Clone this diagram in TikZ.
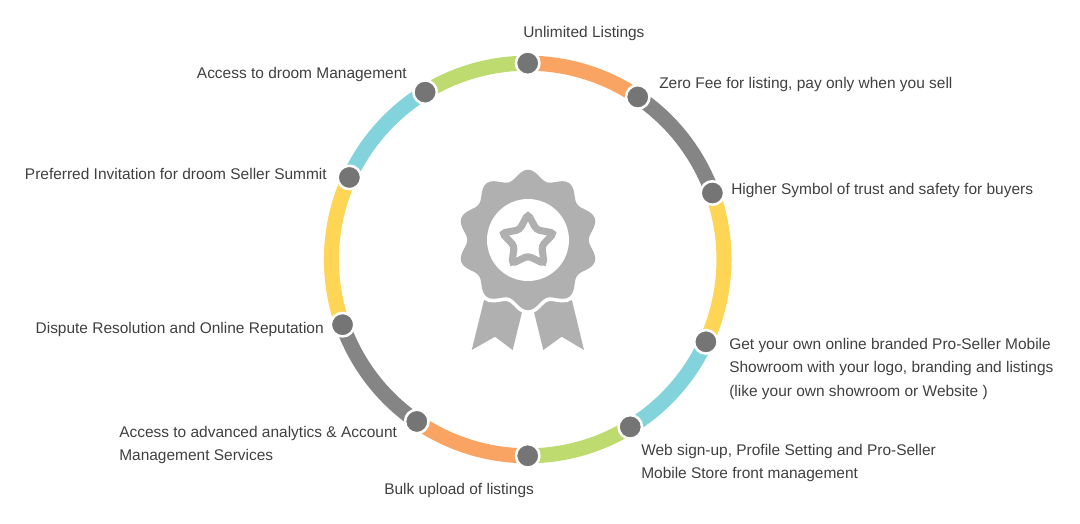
\documentclass[tikz,border=0pt]{standalone}
\usepackage{fontspec}
\setmainfont{Liberation Sans}
\usepackage{xcolor}
\usepackage{tikz}
\usetikzlibrary{positioning,calc,backgrounds,shapes.geometric}
\definecolor{segorange}{HTML}{F9A463}
\definecolor{seggray}{HTML}{858585}
\definecolor{segyellow}{HTML}{FFD555}
\definecolor{segcyan}{HTML}{82D3DC}
\definecolor{seggreen}{HTML}{BEDB6F}
\definecolor{dotgray}{HTML}{757575}
\definecolor{medal}{HTML}{B0B0B0}
\definecolor{txt}{HTML}{404040}
\tikzset{
  dot/.style  = {circle, draw=white, line width=1.8pt, fill=dotgray,
                 minimum size=16.7pt, inner sep=0pt},
  seg/.style  = {line width=10.7pt},
  lbl/.style  = {align=left, inner sep=0pt, text=txt,
                 font=\fontsize{11}{17}\selectfont},
  rib/.style  = {fill=medal, draw=none},
}

\begin{document}
\begin{tikzpicture}[x=0.025cm, y=0.025cm]
  \useasboundingbox (0,0) rectangle (1080,524);
  \coordinate (ctr) at (527.7,264.5);
  \coordinate (bdg) at (528,284);

  % ring
  \foreach \i/\a in {1/90,2/55.9,3/19.8,4/-24.8,5/-58.5,6/-90,7/-124.4,8/-160.6,9/155.3,10/121.5}
    \node[dot] (d\i) at ($(ctr)+(\a:196.3)$) {};
  \begin{scope}[on background layer]
    \foreach \i/\a/\b/\col in {1/90/55.9/segorange,2/55.9/19.8/seggray,3/19.8/-24.8/segyellow,
        4/-24.8/-58.5/segcyan,5/-58.5/-90/seggreen,6/-90/-124.4/segorange,7/-124.4/-160.6/seggray,
        8/-160.6/-204.7/segyellow,9/155.3/121.5/segcyan,10/121.5/90/seggreen}
      \draw[seg, \col] (d\i.center) arc[start angle=\a, end angle=\b, radius=196.3];
  \end{scope}

  % badge
  \fill[rib] (486.5,234) -- (471.7,174) -- (495,187.3) -- (512.7,174) -- (524,220) -- cycle;
  \fill[rib] (532,220) -- (543.3,174) -- (561.7,187.3) -- (584,174) -- (569.5,234) -- cycle;
  \draw[white, line width=3.6pt, fill=medal, shift={(bdg)}]
    plot[smooth, domain=0:360, samples=121] (\x:{66.8+4.8*cos(10*(\x-90))}) -- cycle;
  \fill[medal, shift={(bdg)}]
    plot[smooth, domain=0:360, samples=121] (\x:{65.5+4.8*cos(10*(\x-90))}) -- cycle;
  \node[circle, fill=white, minimum size=58.3pt, inner sep=0pt] (disc) at (bdg) {};
  \node[star, star points=5, star point ratio=1.9, minimum size=39pt, inner sep=0pt,
        draw=medal, line width=5pt, rounded corners=2.5pt, fill=white] (strs) at (528,282.5) {};

  % labels
  \node[lbl, anchor=west] (l1) at (523,490) {Unlimited Listings};
  \node[lbl, anchor=west] (l2) at (659,439) {Zero Fee for listing, pay only when you sell};
  \node[lbl, anchor=west] (l3) at (731,333) {Higher Symbol of trust and safety for buyers};
  \node[lbl, anchor=west] (l4) at (729,155) {Get your own online branded Pro-Seller Mobile\\Showroom with your logo, branding and listings\\(like your own showroom or Website )};
  \node[lbl, anchor=west] (l5) at (641,61) {Web sign-up, Profile Setting and Pro-Seller\\Mobile Store front management};
  \node[lbl, anchor=west] (l6) at (384,33) {Bulk upload of listings};
  \node[lbl, anchor=west] (l7) at (119,79) {Access to advanced analytics \& Account\\Management Services};
  \node[lbl, anchor=east] (l8) at (324,194) {Dispute Resolution and Online Reputation};
  \node[lbl, anchor=east] (l9) at (327,350) {Preferred Invitation for droom Seller Summit};
  \node[lbl, anchor=east] (l10) at (407,449) {Access to droom Management};
\end{tikzpicture}
\end{document}
